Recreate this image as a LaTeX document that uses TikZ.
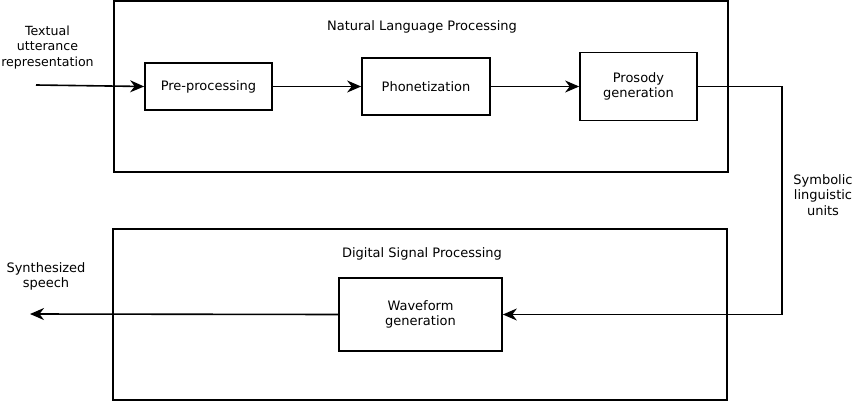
\documentclass[tikz,border=0pt]{standalone}
\usepackage{fontspec}
\setmainfont{DejaVu Sans}
\usetikzlibrary{arrows.meta}
\begin{document}
\begin{tikzpicture}[x=1pt,y=-1pt,
  every node/.style={font=\fontsize{13}{15.8}\selectfont, align=center, inner sep=0pt},
  frame/.style={draw, line width=1.7pt},
  blockbox/.style={draw, line width=1.7pt},
  conn/.style={line width=1.6pt, -{Stealth[length=14pt,width=12pt,inset=4.5pt]}}]
\useasboundingbox (0,0) rectangle (853,401);
% frames
\node[frame, minimum width=614pt, minimum height=171pt] (nlp) at (421,86.5) {};
\node[frame, minimum width=614pt, minimum height=171pt] (dsp) at (420,314.5) {};
\node (nlpt) at (422,27) {Natural Language Processing};
\node (dspt) at (422,254) {Digital Signal Processing};
% blocks
\node[blockbox, minimum width=127pt, minimum height=47pt] (pre) at (208.5,86.5) {Pre-processing};
\node[blockbox, minimum width=128pt, minimum height=57pt] (pho) at (426,86.5) {Phonetization};
\node[blockbox, minimum width=117pt, minimum height=68pt] (pro) at (638.5,86.5) {Prosody\\generation};
\node[blockbox, minimum width=163pt, minimum height=73pt] (wav) at (420.5,314.5) {Waveform\\generation};
% labels
\node[font=\fontsize{12.6}{15.8}\selectfont] (inl) at (47.5,47.5) {Textual\\utterance\\representation};
\node (outl) at (46,276.5) {Synthesized\\speech};
\node (syml) at (823,195) {Symbolic\\linguistic\\units};
\coordinate (in) at (36,85);
\coordinate (out) at (30,314);
\coordinate (c1) at (782,86.5);
\coordinate (c2) at (782,314.5);
% connectors
\draw[conn] (in) -- (pre.west);
\draw[conn] (pre) -- (pho);
\draw[conn] (pho) -- (pro);
\draw[conn] (pro.east) -- (c1) -- (c2) -- (wav.east);
\draw[conn] (wav.west) -- (out);
\end{tikzpicture}
\end{document}
